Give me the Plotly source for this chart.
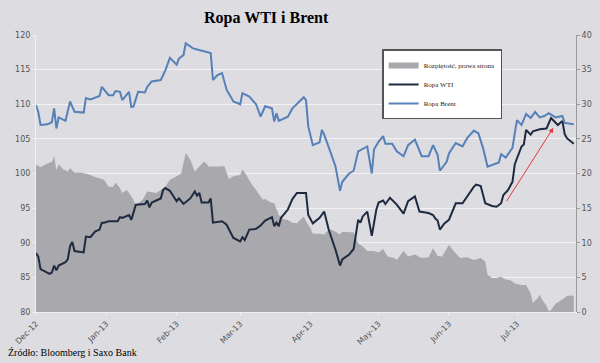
import plotly.graph_objects as go

# ---- data ----
brent_dates = ["2012-12-01","2012-12-02","2012-12-03","2012-12-06","2012-12-08","2012-12-09","2012-12-10","2012-12-11",
"2012-12-14","2012-12-16","2012-12-18","2012-12-22","2012-12-23","2012-12-25","2012-12-29","2012-12-30",
"2013-01-02","2013-01-04","2013-01-05","2013-01-07","2013-01-08","2013-01-11","2013-01-12","2013-01-13",
"2013-01-15","2013-01-18","2013-01-19","2013-01-21","2013-01-25","2013-01-27","2013-01-29","2013-02-01",
"2013-02-02","2013-02-04","2013-02-05","2013-02-08","2013-02-10","2013-02-11","2013-02-13","2013-02-16",
"2013-02-17","2013-02-19","2013-02-21","2013-02-23","2013-02-26","2013-03-01","2013-03-02","2013-03-05",
"2013-03-08","2013-03-10","2013-03-12","2013-03-15","2013-03-16","2013-03-17","2013-03-18","2013-03-22",
"2013-03-24","2013-03-26","2013-03-29","2013-03-30","2013-03-31","2013-04-02","2013-04-05","2013-04-06",
"2013-04-07","2013-04-10","2013-04-12","2013-04-14","2013-04-15","2013-04-18","2013-04-20","2013-04-22",
"2013-04-25","2013-04-26","2013-04-28","2013-04-29","2013-05-01","2013-05-03","2013-05-04","2013-05-07",
"2013-05-09","2013-05-12","2013-05-14","2013-05-17","2013-05-20","2013-05-23","2013-05-25","2013-05-27",
"2013-05-28","2013-05-31","2013-06-01","2013-06-04","2013-06-07","2013-06-09","2013-06-12","2013-06-14",
"2013-06-16","2013-06-18","2013-06-23","2013-06-24","2013-06-26","2013-06-29","2013-06-30","2013-07-01",
"2013-07-03","2013-07-04","2013-07-05","2013-07-07","2013-07-09","2013-07-11","2013-07-13","2013-07-15",
"2013-07-18","2013-07-21","2013-07-22","2013-07-26"]
brent_values = [109.9,108.9,107.0,107.1,107.4,109.4,106.5,108.1,
107.6,110.4,108.9,108.8,110.9,110.7,111.2,112.5,
111.3,111.3,111.9,111.8,110.6,111.8,109.6,109.7,
111.8,111.7,112.5,113.3,113.5,114.9,116.7,115.7,
116.6,117.1,118.8,118.1,117.9,117.8,117.6,117.4,
113.5,114.2,114.5,112.1,110.4,110.0,111.6,111.1,
110.0,108.2,109.7,109.4,107.5,108.7,107.6,108.2,
109.4,110.1,111.0,110.6,106.8,104.1,104.5,106.3,
105.6,102.9,101.0,97.5,98.8,100.0,100.4,103.2,
103.7,103.9,100.0,103.5,104.6,105.4,104.3,104.3,
103.2,102.5,104.1,104.9,102.5,102.5,104.1,102.7,
100.4,101.7,102.9,104.4,103.9,105.1,106.2,105.8,
103.7,101.0,101.6,102.8,102.3,103.7,105.8,107.7,
107.0,107.7,108.6,108.0,108.9,108.1,108.3,108.7,
108.1,108.3,107.3,107.1]

wti_dates = ["2012-12-01","2012-12-02","2012-12-03","2012-12-05","2012-12-07","2012-12-08","2012-12-09","2012-12-10",
"2012-12-11","2012-12-14","2012-12-15","2012-12-16","2012-12-17","2012-12-18","2012-12-22","2012-12-23",
"2012-12-25","2012-12-27","2012-12-29","2012-12-30","2012-12-31","2013-01-02","2013-01-06","2013-01-07",
"2013-01-08","2013-01-11","2013-01-12","2013-01-14","2013-01-18","2013-01-19","2013-01-20","2013-01-21",
"2013-01-23","2013-01-25","2013-01-26","2013-01-27","2013-01-29","2013-02-01","2013-02-02","2013-02-04",
"2013-02-07","2013-02-09","2013-02-10","2013-02-11","2013-02-12","2013-02-15","2013-02-16","2013-02-17",
"2013-02-21","2013-02-23","2013-02-26","2013-03-01","2013-03-02","2013-03-03","2013-03-05","2013-03-08",
"2013-03-10","2013-03-12","2013-03-15","2013-03-16","2013-03-17","2013-03-18","2013-03-19","2013-03-22",
"2013-03-24","2013-03-26","2013-03-30","2013-03-31","2013-04-02","2013-04-05","2013-04-07","2013-04-09",
"2013-04-12","2013-04-13","2013-04-14","2013-04-15","2013-04-18","2013-04-20","2013-04-22","2013-04-23",
"2013-04-24","2013-04-26","2013-04-28","2013-04-30","2013-05-01","2013-05-03","2013-05-04","2013-05-06",
"2013-05-09","2013-05-12","2013-05-14","2013-05-17","2013-05-19","2013-05-23","2013-05-25","2013-05-26",
"2013-05-27","2013-05-28","2013-05-30","2013-06-01","2013-06-04","2013-06-07","2013-06-10","2013-06-12",
"2013-06-13","2013-06-15","2013-06-17","2013-06-20","2013-06-22","2013-06-24","2013-06-25","2013-06-27",
"2013-06-29","2013-06-30","2013-07-01","2013-07-03","2013-07-04","2013-07-05","2013-07-07","2013-07-08",
"2013-07-11","2013-07-14","2013-07-16","2013-07-17","2013-07-19","2013-07-21","2013-07-22","2013-07-23",
"2013-07-26"]
wti_values = [88.5,88.0,86.2,85.9,85.5,85.7,86.7,86.0,
86.7,87.2,87.6,89.5,90.1,88.8,88.6,90.9,
90.8,91.6,91.9,92.9,92.9,93.1,93.1,93.7,
93.6,94.0,93.3,95.5,95.6,96.1,95.1,95.8,
96.1,96.4,97.6,97.9,97.5,96.0,96.4,95.6,
96.4,97.4,96.8,97.2,95.8,95.8,96.4,92.9,
93.1,92.6,90.7,90.2,90.8,90.4,91.9,92.0,
92.5,93.2,93.7,92.4,92.9,92.4,93.6,94.8,
96.3,97.2,97.2,94.0,92.8,93.6,94.5,91.9,
89.0,88.0,86.7,87.6,88.3,89.1,93.3,92.9,
93.8,94.5,91.0,94.8,95.8,96.1,95.6,96.5,
95.5,94.2,96.0,96.7,94.5,94.3,94.0,93.5,
93.2,91.9,92.8,93.3,95.7,95.7,97.2,98.1,
98.4,98.2,95.7,95.3,95.2,95.7,96.9,97.6,
98.8,101.3,102.2,103.9,104.2,106.3,105.6,106.1,
106.4,106.5,108.0,107.7,107.0,107.6,105.7,105.1,
104.3]

spread_dates = ["2012-12-01","2012-12-03","2012-12-05","2012-12-08","2012-12-09","2012-12-10","2012-12-11","2012-12-13",
"2012-12-15","2012-12-16","2012-12-18","2012-12-21","2012-12-24","2012-12-27","2012-12-31","2013-01-02",
"2013-01-04","2013-01-05","2013-01-07","2013-01-08","2013-01-10","2013-01-12","2013-01-14","2013-01-17",
"2013-01-19","2013-01-23","2013-01-25","2013-01-27","2013-01-29","2013-02-01","2013-02-03","2013-02-05",
"2013-02-07","2013-02-09","2013-02-11","2013-02-13","2013-02-14","2013-02-15","2013-02-19","2013-02-20",
"2013-02-22","2013-02-24","2013-02-26","2013-03-01","2013-03-02","2013-03-04","2013-03-06","2013-03-08",
"2013-03-11","2013-03-12","2013-03-14","2013-03-16","2013-03-18","2013-03-20","2013-03-22","2013-03-24",
"2013-03-26","2013-03-29","2013-03-30","2013-04-01","2013-04-02","2013-04-05","2013-04-07","2013-04-09",
"2013-04-10","2013-04-12","2013-04-14","2013-04-15","2013-04-18","2013-04-20","2013-04-22","2013-04-24",
"2013-04-26","2013-04-29","2013-05-01","2013-05-03","2013-05-05","2013-05-08","2013-05-09","2013-05-12",
"2013-05-14","2013-05-17","2013-05-20","2013-05-23","2013-05-25","2013-05-27","2013-05-29","2013-06-01",
"2013-06-03","2013-06-06","2013-06-09","2013-06-12","2013-06-15","2013-06-17","2013-06-18","2013-06-20",
"2013-06-22","2013-06-24","2013-06-26","2013-06-28","2013-06-29","2013-06-30","2013-07-03","2013-07-05",
"2013-07-07","2013-07-08","2013-07-10","2013-07-11","2013-07-12","2013-07-14","2013-07-15","2013-07-16",
"2013-07-18","2013-07-21","2013-07-23","2013-07-25","2013-07-26"]
spread_values = [21.3,20.9,21.3,21.7,22.5,20.5,21.3,20.6,
20.3,20.8,20.1,20.1,19.9,19.5,19.1,18.1,
18.1,18.7,17.9,17.2,17.6,16.7,15.5,16.2,
17.4,17.2,17.6,18.1,19.1,19.6,20.0,23.0,
22.0,20.3,21.0,21.7,21.5,21.0,21.0,21.0,
21.1,19.2,19.6,19.8,20.6,19.6,18.5,17.6,
16.2,16.3,15.9,15.7,14.0,13.4,13.3,12.9,
12.8,13.8,13.1,12.1,11.3,11.3,11.2,11.9,
11.9,11.6,11.2,11.6,11.5,11.5,9.9,9.5,
8.8,8.8,8.6,9.1,8.0,7.8,7.5,8.8,
8.0,8.3,7.8,7.9,9.2,8.1,8.0,9.7,
8.8,7.8,7.9,7.5,7.8,7.3,5.4,4.9,
4.9,5.1,4.7,4.6,4.4,4.1,3.9,3.9,
2.7,1.3,2.0,2.5,1.8,0.9,0.1,0.3,
1.2,1.8,2.3,2.4,2.3]

title_text = "Ropa WTI i Brent"
source_text = "Źródło: Bloomberg i Saxo Bank"
name_spread = "Rozpiętość, prawa strona"
name_wti = "Ropa WTI"
name_brent = "Ropa Brent"

BG = "#dddce1"
GRID = "#f3f3f5"
TICKFONT = dict(family="DejaVu Sans", size=8, color="#555555")

fig = go.Figure()
fig.add_trace(go.Scatter(x=spread_dates, y=spread_values, name=name_spread, yaxis="y",
                         mode="none", fill="tozeroy", fillcolor="#a9a8ac"))
fig.add_trace(go.Scatter(x=wti_dates, y=wti_values, name=name_wti, yaxis="y2",
                         mode="lines", line=dict(color="#1d2a40", width=2)))
fig.add_trace(go.Scatter(x=brent_dates, y=brent_values, name=name_brent, yaxis="y2",
                         mode="lines", line=dict(color="#5581b8", width=2)))

fig.update_layout(
    width=600, height=363,
    margin=dict(l=36, r=24, t=35, b=51),
    paper_bgcolor=BG, plot_bgcolor=BG,
    showlegend=True,
    legend=dict(x=0.641, y=0.948, xanchor="left", yanchor="top",
                bgcolor="white", bordercolor="#555555", borderwidth=1.5,
                font=dict(family="Liberation Serif", size=7, color="#222222"),
                traceorder="normal"),
    xaxis=dict(type="date", range=["2012-12-01", "2013-07-27"],
               tickformat="%b-%y", dtick="M1", tick0="2012-12-01",
               tickangle=-45, tickfont=TICKFONT,
               ticks="outside", ticklen=3, tickcolor="#f0f0f0",
               showgrid=False, showline=True, linecolor="#eeeeee", zeroline=False,
               automargin=False),
    yaxis=dict(side="right", range=[0, 40], dtick=5, tickfont=TICKFONT,
               showgrid=True, gridcolor=GRID, gridwidth=1,
               showline=True, linecolor="#999999", linewidth=1,
               ticks="outside", ticklen=3, tickcolor="#999999", zeroline=False,
               automargin=False),
    yaxis2=dict(overlaying="y", side="left", range=[80, 120], dtick=5, tickfont=TICKFONT,
                showgrid=False, showline=True, linecolor="#f0f0f0",
                ticks="outside", ticklen=3, tickcolor="#f0f0f0", zeroline=False,
                automargin=False),
    annotations=[
        dict(text="<b>" + title_text + "</b>", xref="paper", yref="paper",
             x=0.426, y=1.061, xanchor="center", yanchor="middle", showarrow=False,
             font=dict(family="Liberation Serif", size=16, color="black")),
        dict(text=source_text, xref="paper", yref="paper",
             x=-0.056, y=-0.148, xanchor="left", yanchor="middle", showarrow=False,
             font=dict(family="Liberation Serif", size=10, color="black")),
        dict(x="2013-07-17", y=106.6, ax="2013-06-26", ay=95.8,
             xref="x", yref="y2", axref="x", ayref="y2", text="",
             showarrow=True, arrowhead=2, arrowsize=1, arrowwidth=1, arrowcolor="#e03a3a"),
    ],
)

fig.write_html("out.html",
               config={"displayModeBar": False},
               post_script="document.body.style.margin='0';document.body.style.overflow='hidden';")
